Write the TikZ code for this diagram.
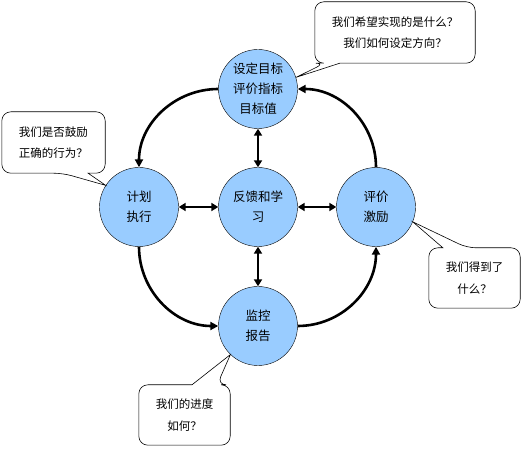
\documentclass[tikz,border=0pt]{standalone}
\usepackage{fontspec}
\setmainfont{Noto Sans CJK SC}
\usepackage{tikz}
\usetikzlibrary{calc,arrows.meta}
\definecolor{skyblue}{HTML}{99CCFF}

\begin{document}
\begin{tikzpicture}[
  x=1pt, y=1pt,
  stage/.style={circle, draw, thin, fill=skyblue, minimum size=79pt,
    inner sep=0pt, align=center, font=\fontsize{12.5}{20}\selectfont},
  quest/.style={align=center, inner sep=0pt,
    font=\fontsize{11.5}{21.5}\selectfont},
  bubble/.style={draw, line width=0.6pt},
  cyc/.style={-{Triangle[length=8pt,width=8pt]}, line width=2.6pt},
  dbl/.style={{Triangle[length=7pt,width=8pt]}-{Triangle[length=7pt,width=8pt]},
    line width=2.6pt}
]
\useasboundingbox (0,0) rectangle (523,450);

% ---- stages ----
\node[stage] (goal) at (258,361) {设定目标\\评价指标\\目标值};
\node[stage] (plan) at (139,243) {计划\\执行};
\node[stage] (learn) at (258,243) {反馈和学\\习};
\node[stage] (eval) at (376,243) {评价\\激励};
\node[stage] (monitor) at (258,124) {监控\\报告};

% ---- outer cycle ----
\draw[cyc] (goal.west) to[out=180, in=90] (plan.north);
\draw[cyc] (plan.south) to[out=-90, in=180] (monitor.west);
\draw[cyc] (monitor.east) to[out=0, in=-90] (eval.south);
\draw[cyc] (eval.north) to[out=90, in=0] (goal.east);

% ---- feedback ----
\draw[dbl] (learn) -- (goal);
\draw[dbl] (learn) -- (plan);
\draw[dbl] (learn) -- (eval);
\draw[dbl] (learn) -- (monitor);

% ---- questions ----
\node[quest, minimum width=160pt, minimum height=61pt] (q1) at (395,417.5)
  {我们希望实现的是什么？\\我们如何设定方向？};
\draw[bubble] ($(q1.south west)!0.0625!(q1.south east)$) -- (goal.17)
  -- ($(q1.south west)!0.156!(q1.south east)$) [rounded corners=9pt]
  -- (q1.south east) -- (q1.north east) -- (q1.north west)
  -- (q1.south west) -- cycle;

\node[quest, minimum width=103pt, minimum height=61pt] (q2) at (53.5,307.5)
  {我们是否鼓励\\正确的行为？};
\draw[bubble] ($(q2.south west)!0.59!(q2.south east)$) -- (plan.147)
  -- ($(q2.south west)!0.835!(q2.south east)$) [rounded corners=9pt]
  -- (q2.south east) -- (q2.north east) -- (q2.north west)
  -- (q2.south west) -- cycle;

\node[quest, minimum width=91pt, minimum height=60pt] (q3) at (474.5,172)
  {我们得到了\\什么？};
\draw[bubble] ($(q3.north west)!0.418!(q3.north east)$) -- (eval.-22)
  -- ($(q3.north west)!0.154!(q3.north east)$) [rounded corners=9pt]
  -- (q3.north west) -- (q3.south west) -- (q3.south east)
  -- (q3.north east) -- cycle;

\node[quest, minimum width=91pt, minimum height=60pt] (q4) at (184.5,35)
  {我们的进度\\如何？};
\draw[bubble] ($(q4.north west)!0.857!(q4.north east)$) -- (monitor.-134)
  -- ($(q4.north west)!0.582!(q4.north east)$) [rounded corners=9pt]
  -- (q4.north west) -- (q4.south west) -- (q4.south east)
  -- (q4.north east) -- cycle;
\end{tikzpicture}
\end{document}
